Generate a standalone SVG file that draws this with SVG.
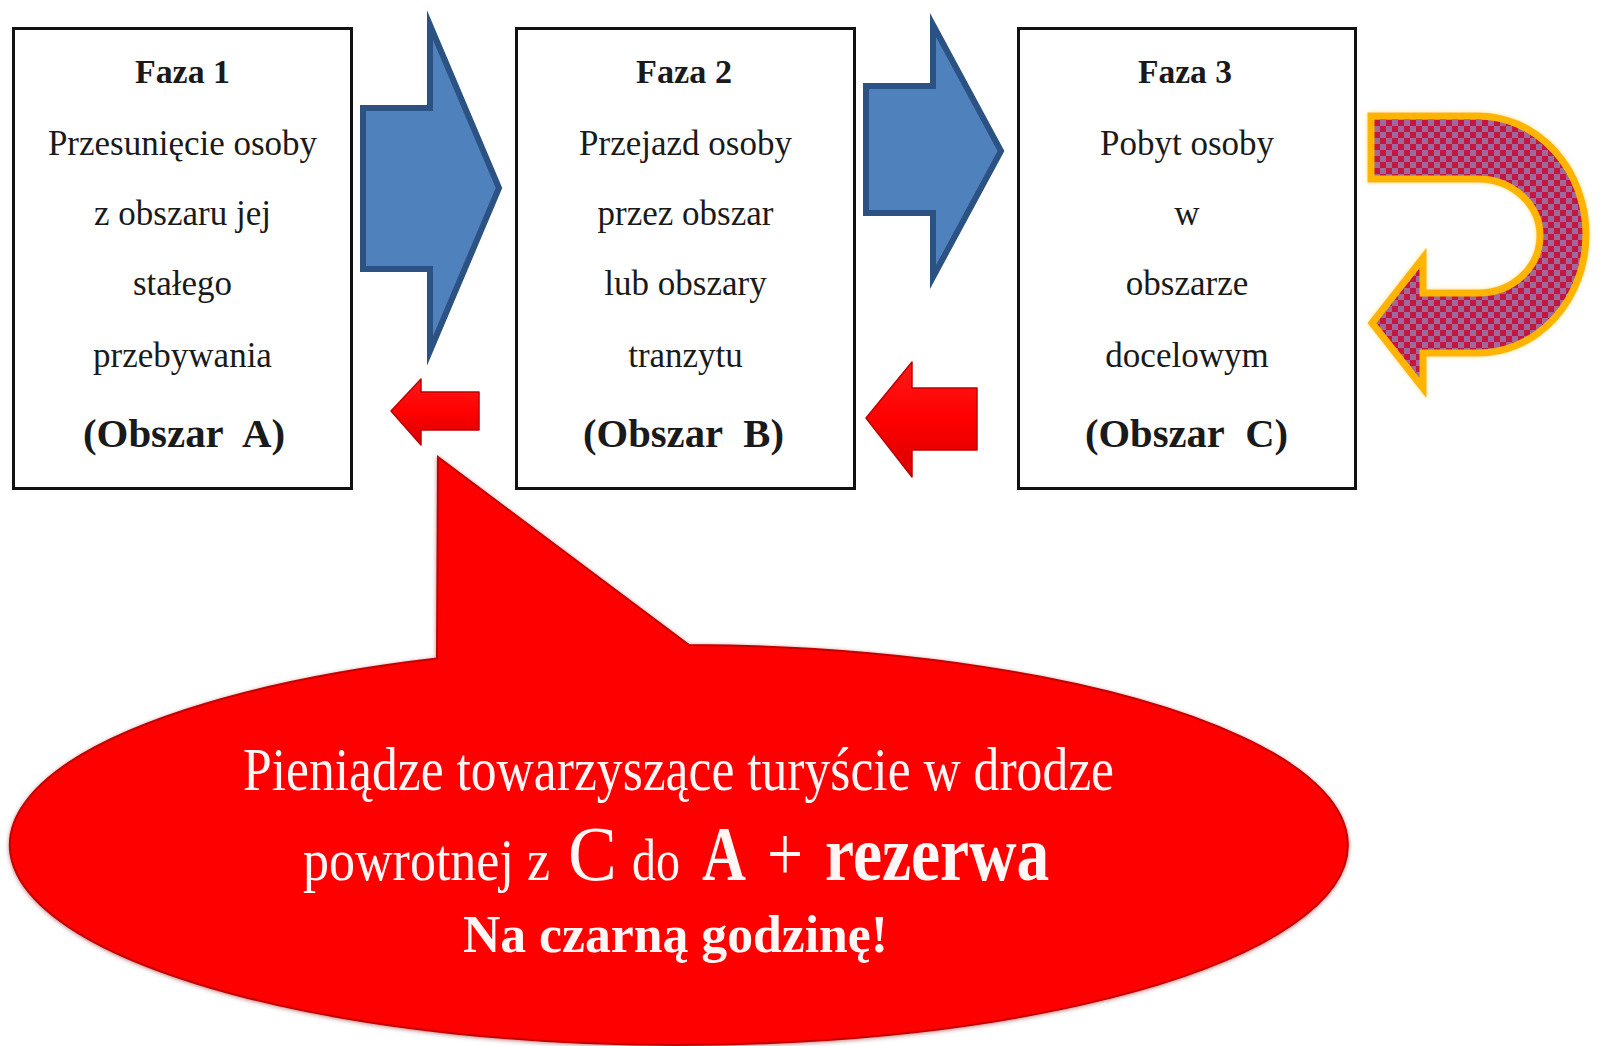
<svg xmlns="http://www.w3.org/2000/svg" width="1601" height="1046" viewBox="0 0 1601 1046">
<style>
.box{fill:#fff;stroke:#111;stroke-width:3}
.t{font-family:"Liberation Serif","Times New Roman",serif;font-size:35px;fill:#1a1a1a;text-anchor:middle}
.h{font-family:"Liberation Serif","Times New Roman",serif;font-size:33px;font-weight:bold;fill:#1a1a1a}
.o{font-family:"Liberation Serif","Times New Roman",serif;font-size:41px;font-weight:bold;fill:#1a1a1a}
.blue{fill:#4F81BD;stroke:#2C5283;stroke-width:6;stroke-linejoin:miter;stroke-miterlimit:12}
.red{fill:url(#redg);stroke:#C00000;stroke-width:1.5;stroke-linejoin:round}
.w{font-family:"Liberation Serif","Times New Roman",serif;fill:#FFF6F6}
.b{font-weight:bold}
</style>
<defs>
<pattern id="chk" width="12" height="12" patternUnits="userSpaceOnUse">
<rect width="12" height="12" fill="#C4163F"/>
<rect width="6" height="6" fill="#9E6A9C"/>
<rect x="6" y="6" width="6" height="6" fill="#9E6A9C"/>
</pattern>
<linearGradient id="redg" x1="0" y1="0" x2="0" y2="1">
<stop offset="0" stop-color="#FF1A1A"/>
<stop offset="0.5" stop-color="#FF0000"/>
<stop offset="1" stop-color="#D80000"/>
</linearGradient>
<filter id="sh" x="-5%" y="-5%" width="110%" height="110%">
<feDropShadow dx="0" dy="1" stdDeviation="2" flood-color="#800000" flood-opacity="0.5"/>
</filter>
<filter id="glow" x="-10%" y="-10%" width="120%" height="120%">
<feDropShadow dx="0" dy="0" stdDeviation="2" flood-color="#FFD966" flood-opacity="0.8"/>
</filter>
</defs>

<g id="connectors">
<path id="blue-arrow-1" class="blue" d="M363,108 L430,108 L430,25 L499,188 L430,351 L430,269 L363,269 Z"/>
<path id="blue-arrow-2" class="blue" d="M866,86 L933,86 L933,25 L1001,151 L933,277 L933,213 L866,213 Z"/>
<path id="red-arrow-1" class="red" d="M391,411 L421,379 L421,392 L479,392 L479,430 L421,430 L421,445 Z"/>
<path id="red-arrow-2" class="red" d="M866,418 L912,362 L912,388 L977,388 L977,450 L912,450 L912,477 Z"/>
<path id="uturn-arrow" filter="url(#glow)" fill="url(#chk)" stroke="#FFB400" stroke-width="7" stroke-linejoin="miter" d="M1371,116 L1478,116 A108,118.5 0 0 1 1478,353 L1423,353 L1423,388 L1372,323 L1423,258 L1423,293 L1478,293 A62,57 0 0 0 1478,179 L1371,179 Z"/>
</g>

<g id="node-faza1">
<rect class="box" x="13.5" y="28.5" width="338" height="460"/>
<text class="h" x="135" y="83" textLength="95" lengthAdjust="spacingAndGlyphs">Faza 1</text>
<text class="t" x="182.5" y="155">Przesunięcie osoby</text>
<text class="t" x="182.5" y="225">z obszaru jej</text>
<text class="t" x="182.5" y="295">stałego</text>
<text class="t" x="182.5" y="367">przebywania</text>
<text class="o" x="83" y="447" textLength="202" lengthAdjust="spacingAndGlyphs">(Obszar&#160; A)</text>
</g>

<g id="node-faza2">
<rect class="box" x="516.5" y="28.5" width="338" height="460"/>
<text class="h" x="636" y="83" textLength="96" lengthAdjust="spacingAndGlyphs">Faza 2</text>
<text class="t" x="685.5" y="155">Przejazd osoby</text>
<text class="t" x="685.5" y="225">przez obszar</text>
<text class="t" x="685.5" y="295">lub obszary</text>
<text class="t" x="685.5" y="367">tranzytu</text>
<text class="o" x="583" y="447" textLength="201" lengthAdjust="spacingAndGlyphs">(Obszar&#160; B)</text>
</g>

<g id="node-faza3">
<rect class="box" x="1018.5" y="28.5" width="337" height="460"/>
<text class="h" x="1138" y="83" textLength="94" lengthAdjust="spacingAndGlyphs">Faza 3</text>
<text class="t" x="1187" y="155">Pobyt osoby</text>
<text class="t" x="1187" y="225">w</text>
<text class="t" x="1187" y="295">obszarze</text>
<text class="t" x="1187" y="367">docelowym</text>
<text class="o" x="1085" y="447" textLength="203" lengthAdjust="spacingAndGlyphs">(Obszar&#160; C)</text>
</g>

<g id="node-callout">
<path filter="url(#sh)" fill="#FF0000" stroke="#C40000" stroke-width="2" d="M438,457 L689,645 A669,200 0 1 1 437,658.5 Z"/>
<text class="w" x="243" y="790" font-size="62" textLength="871" lengthAdjust="spacingAndGlyphs">Pieniądze towarzyszące turyście w drodze</text>
<text class="w" font-size="60" transform="translate(303,880) scale(0.867,1)">powrotnej z</text>
<text class="w" font-size="78" transform="translate(568,880) scale(0.94,1)">C</text>
<text class="w" font-size="60" transform="translate(632,880) scale(0.8,1)">do</text>
<text class="w b" font-size="78" transform="translate(702,880) scale(0.78,1)">A</text>
<text class="w" font-size="78" transform="translate(767,880) scale(0.82,1)">+</text>
<text class="w b" font-size="78" transform="translate(825,880) scale(0.84,1)">rezerwa</text>
<text class="w b" x="463" y="952" font-size="53" textLength="425" lengthAdjust="spacingAndGlyphs">Na czarną godzinę!</text>
</g>
</svg>
